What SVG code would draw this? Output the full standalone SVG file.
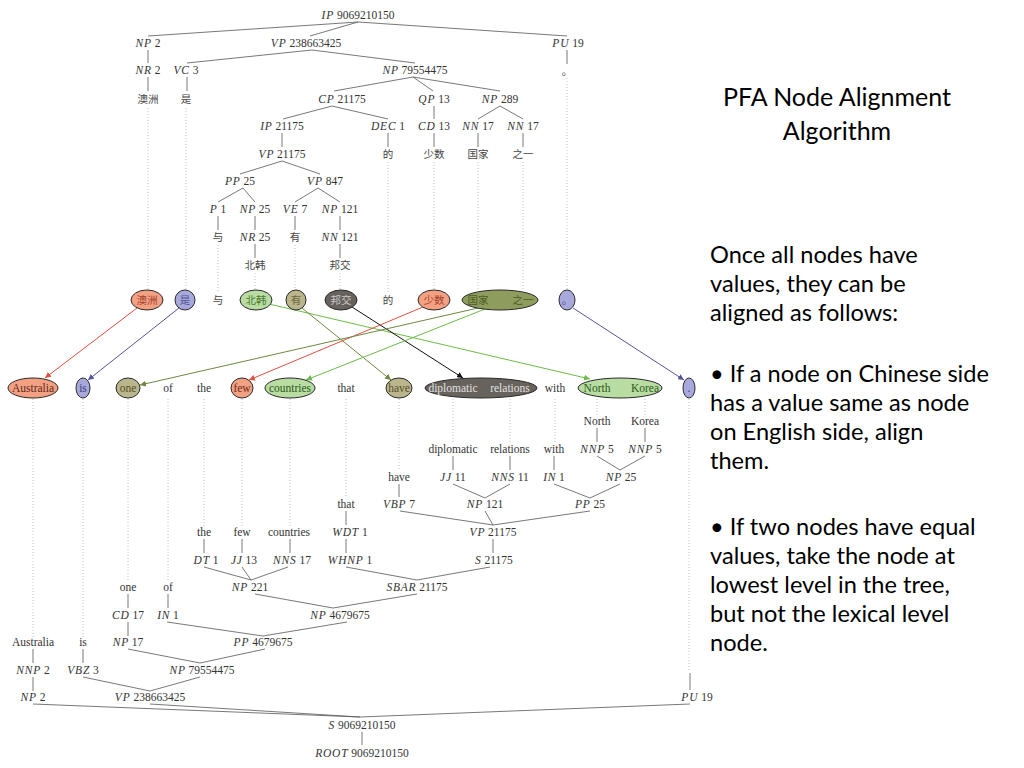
<svg xmlns="http://www.w3.org/2000/svg" width="1024" height="768" viewBox="0 0 1024 768">
<style>
.t{font-family:"Liberation Serif","DejaVu Serif",serif;font-size:11.5px;fill:#333;text-anchor:middle}
.c{font-style:italic;letter-spacing:0.8px}
.z{font-family:"Noto Sans CJK SC",sans-serif;font-size:10.5px;fill:#444;text-anchor:middle}
.l{stroke:#555;stroke-width:0.8;fill:none}
.d{stroke:#b0b0b0;stroke-width:0.8;stroke-dasharray:1 2;fill:none}
.n{stroke:#2a2a2a;stroke-width:1}
.red{fill:#f4a083}.pur{fill:#a8a8dc}.lg{fill:#b8dca2}.kh{fill:#bab58c}.dk{fill:#68625c}.ol{fill:#8e9d5e}
.a{fill:none;stroke-width:1}
.p{font-family:"Lato","Open Sans",sans-serif;font-size:23.6px;fill:#000}
</style>
<defs>
<marker id="mr" markerUnits="userSpaceOnUse" markerWidth="7" markerHeight="6" refX="6" refY="3" orient="auto"><path d="M0,0 L6,3 L0,6 z" fill="#e0503f"/></marker>
<marker id="mp" markerUnits="userSpaceOnUse" markerWidth="7" markerHeight="6" refX="6" refY="3" orient="auto"><path d="M0,0 L6,3 L0,6 z" fill="#55559a"/></marker>
<marker id="mg" markerUnits="userSpaceOnUse" markerWidth="7" markerHeight="6" refX="6" refY="3" orient="auto"><path d="M0,0 L6,3 L0,6 z" fill="#6cbb48"/></marker>
<marker id="mo" markerUnits="userSpaceOnUse" markerWidth="7" markerHeight="6" refX="6" refY="3" orient="auto"><path d="M0,0 L6,3 L0,6 z" fill="#6f8840"/></marker>
<marker id="mk" markerUnits="userSpaceOnUse" markerWidth="7" markerHeight="6" refX="6" refY="3" orient="auto"><path d="M0,0 L6,3 L0,6 z" fill="#111"/></marker>
</defs>
<rect width="1024" height="768" fill="#fff"/>

<g id="connectors">
<g id="dotted">
<path class="d" d="M148,108V289M186,108V289M218,245V292M255,273V289M295,245V289M340,273V289M388,162V292M434,162V289M478,162V289M523,162V289M567,78V289"/>
<path class="d" d="M33,399V637M83,399V637M128,399V582M168,399V582M204,399V526M242,399V526M290,399V526M346,399V498M399,399V471M453,399V443M510,399V443M555,399V443M597,399V415M645,399V415M689,399V672"/>
</g>
<g id="tree-zh">
<path class="l" d="M358,22L148,36M358,22L310,36M358,22L567,36M148,50L148,63M312,50L187,63M312,50L415,63M148,77L148,91M187,77L187,91M567,50L567,64M413,77L334,91M413,77L433,91M413,77L500,91M332,106L283,119M332,106L388,119M434,106L434,119M500,106L478,119M500,106L523,119M282,133L282,147M388,133L388,147M434,133L434,147M478,133L478,147M523,133L523,147M282,161L240,174M282,161L320,174M243,188L218,202M243,188L255,202M318,188L295,202M318,188L340,202M218,216L218,230M255,216L255,230M295,216L295,230M340,216L340,230M255,244L255,258M340,244L340,258"/>
</g>
<g id="tree-en">
<path class="l" d="M597,428L597,442M645,428L645,442M453,456L453,470M510,456L510,470M554,456L554,470M597,456L620,470M645,456L620,470M399,484L399,497M453,484L485,498M510,484L485,498M554,484L590,498M620,484L590,498M346,511L346,525M400,511L493,525M485,511L493,525M590,511L493,525M204,539L204,553M242,539L242,553M290,539L290,553M346,539L346,553M493,539L493,553M204,567L251,580M242,567L251,580M288,567L251,580M346,567L417,580M490,567L417,580M128,594L128,608M168,594L168,608M255,594L333,608M417,594L333,608M128,622L128,636M167,622L263,636M347,622L263,636M33,649L33,663M83,649L83,663M128,649L200,663M265,649L200,663M33,677L33,691M83,677L150,691M200,677L150,691M33,704L360,717M150,704L360,717M690,704L360,717M362,732L362,745M690,673L690,690"/>
</g>
<g id="alignments">
<path class="a" stroke="#e0503f" marker-end="url(#mr)" d="M137,308L45,378"/>
<path class="a" stroke="#55559a" marker-end="url(#mp)" d="M179,308L88,380"/>
<path class="a" stroke="#6cbb48" marker-end="url(#mg)" d="M269,304L590,379"/>
<path class="a" stroke="#6f8840" marker-end="url(#mo)" d="M302,308L391,380"/>
<path class="a" stroke="#111" marker-end="url(#mk)" d="M352,307L463,378"/>
<path class="a" stroke="#e0503f" marker-end="url(#mr)" d="M423,307L249,380"/>
<path class="a" stroke="#6f8840" marker-end="url(#mo)" d="M478,308L140,385"/>
<path class="a" stroke="#6cbb48" marker-end="url(#mg)" d="M485,309L306,380"/>
<path class="a" stroke="#55559a" marker-end="url(#mp)" d="M573,308L684,380"/>
</g>
</g>

<g id="zh-tree-nodes">
<g id="zh-IP"><text class="t" x="358" y="19"><tspan class="c">IP</tspan> 9069210150</text></g>
<g id="zh-NP2"><text class="t" x="148" y="47"><tspan class="c">NP</tspan> 2</text></g>
<g id="zh-VP"><text class="t" x="306" y="47"><tspan class="c">VP</tspan> 238663425</text></g>
<g id="zh-PU"><text class="t" x="568" y="47"><tspan class="c">PU</tspan> 19</text></g>
<g id="zh-NR2"><text class="t" x="148" y="74"><tspan class="c">NR</tspan> 2</text></g>
<g id="zh-VC3"><text class="t" x="186" y="74"><tspan class="c">VC</tspan> 3</text></g>
<g id="zh-NP795"><text class="t" x="415" y="74"><tspan class="c">NP</tspan> 79554475</text></g>
<g id="zh-w-period"><text class="z" x="567" y="75">。</text></g>
<g id="zh-w-aozhou"><text class="z" x="148" y="103">澳洲</text></g>
<g id="zh-w-shi"><text class="z" x="186" y="103">是</text></g>
<g id="zh-CP"><text class="t" x="342" y="103"><tspan class="c">CP</tspan> 21175</text></g>
<g id="zh-QP"><text class="t" x="434" y="103"><tspan class="c">QP</tspan> 13</text></g>
<g id="zh-NP289"><text class="t" x="500" y="103"><tspan class="c">NP</tspan> 289</text></g>
<g id="zh-IP21175"><text class="t" x="282" y="130"><tspan class="c">IP</tspan> 21175</text></g>
<g id="zh-DEC"><text class="t" x="388" y="130"><tspan class="c">DEC</tspan> 1</text></g>
<g id="zh-CD"><text class="t" x="434" y="130"><tspan class="c">CD</tspan> 13</text></g>
<g id="zh-NN17a"><text class="t" x="478" y="130"><tspan class="c">NN</tspan> 17</text></g>
<g id="zh-NN17b"><text class="t" x="523" y="130"><tspan class="c">NN</tspan> 17</text></g>
<g id="zh-VP21175"><text class="t" x="282" y="158"><tspan class="c">VP</tspan> 21175</text></g>
<g id="zh-w-de"><text class="z" x="388" y="158">的</text></g>
<g id="zh-w-shaoshu"><text class="z" x="434" y="158">少数</text></g>
<g id="zh-w-guojia"><text class="z" x="478" y="158">国家</text></g>
<g id="zh-w-zhiyi"><text class="z" x="523" y="158">之一</text></g>
<g id="zh-PP"><text class="t" x="240" y="185"><tspan class="c">PP</tspan> 25</text></g>
<g id="zh-VP847"><text class="t" x="325" y="185"><tspan class="c">VP</tspan> 847</text></g>
<g id="zh-P1"><text class="t" x="218" y="213"><tspan class="c">P</tspan> 1</text></g>
<g id="zh-NP25"><text class="t" x="255" y="213"><tspan class="c">NP</tspan> 25</text></g>
<g id="zh-VE7"><text class="t" x="295" y="213"><tspan class="c">VE</tspan> 7</text></g>
<g id="zh-NP121"><text class="t" x="340" y="213"><tspan class="c">NP</tspan> 121</text></g>
<g id="zh-w-yu"><text class="z" x="218" y="241">与</text></g>
<g id="zh-NR25"><text class="t" x="255" y="241"><tspan class="c">NR</tspan> 25</text></g>
<g id="zh-w-you"><text class="z" x="295" y="241">有</text></g>
<g id="zh-NN121"><text class="t" x="340" y="241"><tspan class="c">NN</tspan> 121</text></g>
<g id="zh-w-beihan"><text class="z" x="255" y="269">北韩</text></g>
<g id="zh-w-bangjiao"><text class="z" x="340" y="269">邦交</text></g>
</g>

<g id="zh-aligned-nodes">
<g id="a-aozhou"><ellipse class="n red" cx="147" cy="300" rx="16" ry="10"/><text class="z" x="147" y="304" style="fill:#a0402c">澳洲</text></g>
<g id="a-shi"><ellipse class="n pur" cx="185" cy="300" rx="10" ry="10"/><text class="z" x="185" y="304" style="fill:#50508e">是</text></g>
<g id="a-yu"><text class="z" x="218" y="304">与</text></g>
<g id="a-beihan"><ellipse class="n lg" cx="256" cy="300" rx="16" ry="10"/><text class="z" x="256" y="304" style="fill:#4a7a30">北韩</text></g>
<g id="a-you"><ellipse class="n kh" cx="296" cy="300" rx="10" ry="10"/><text class="z" x="296" y="304" style="fill:#6a6540">有</text></g>
<g id="a-bangjiao"><ellipse class="n dk" cx="341" cy="300" rx="16" ry="10"/><text class="z" x="341" y="304" style="fill:#c8c8c8">邦交</text></g>
<g id="a-de"><text class="z" x="388" y="304">的</text></g>
<g id="a-shaoshu"><ellipse class="n red" cx="434" cy="300" rx="16" ry="10"/><text class="z" x="434" y="304" style="fill:#a0402c">少数</text></g>
<g id="a-guojia-zhiyi"><ellipse class="n ol" cx="500" cy="300" rx="38" ry="10"/><text class="z" x="478" y="304" style="fill:#4a5a22">国家</text><text class="z" x="523" y="304" style="fill:#4a5a22">之一</text></g>
<g id="a-period"><ellipse class="n pur" cx="567" cy="300" rx="8" ry="10"/><text class="z" x="567" y="304" style="fill:#50508e">。</text></g>
</g>

<g id="en-aligned-nodes">
<g id="b-australia"><ellipse class="n red" cx="33" cy="388" rx="25" ry="10"/><text class="t" x="33" y="392" style="fill:#5a2a1a">Australia</text></g>
<g id="b-is"><ellipse class="n pur" cx="83" cy="388" rx="7" ry="10"/><text class="t" x="83" y="392" style="fill:#40407a">is</text></g>
<g id="b-one"><ellipse class="n kh" cx="128" cy="388" rx="12" ry="10"/><text class="t" x="128" y="392" style="fill:#55502a">one</text></g>
<g id="b-of"><text class="t" x="168" y="392">of</text></g>
<g id="b-the"><text class="t" x="204" y="392">the</text></g>
<g id="b-few"><ellipse class="n red" cx="242" cy="388" rx="11" ry="10"/><text class="t" x="242" y="392" style="fill:#6a2a1a">few</text></g>
<g id="b-countries"><ellipse class="n lg" cx="290" cy="388" rx="25" ry="10"/><text class="t" x="290" y="392" style="fill:#2a5a1a">countries</text></g>
<g id="b-that"><text class="t" x="346" y="392">that</text></g>
<g id="b-have"><ellipse class="n kh" cx="399" cy="388" rx="13" ry="10"/><text class="t" x="399" y="392" style="fill:#55502a">have</text></g>
<g id="b-diplomatic-relations"><ellipse class="n dk" cx="481" cy="388" rx="56" ry="10"/><text class="t" x="453" y="392" style="fill:#e0e0e0">diplomatic</text><text class="t" x="510" y="392" style="fill:#e0e0e0">relations</text></g>
<g id="b-with"><text class="t" x="555" y="392">with</text></g>
<g id="b-north-korea"><ellipse class="n lg" cx="620" cy="388" rx="42" ry="10"/><text class="t" x="597" y="392" style="fill:#2a5a1a">North</text><text class="t" x="645" y="392" style="fill:#2a5a1a">Korea</text></g>
<g id="b-period"><ellipse class="n pur" cx="689" cy="388" rx="6" ry="10"/><text class="t" x="689" y="392" style="fill:#40407a">.</text></g>
</g>

<g id="en-tree-nodes">
<g id="en-w-north"><text class="t" x="597" y="425">North</text></g>
<g id="en-w-korea"><text class="t" x="645" y="425">Korea</text></g>
<g id="en-w-diplomatic"><text class="t" x="453" y="453">diplomatic</text></g>
<g id="en-w-relations"><text class="t" x="510" y="453">relations</text></g>
<g id="en-w-with"><text class="t" x="554" y="453">with</text></g>
<g id="en-NNP5a"><text class="t" x="597" y="453"><tspan class="c">NNP</tspan> 5</text></g>
<g id="en-NNP5b"><text class="t" x="645" y="453"><tspan class="c">NNP</tspan> 5</text></g>
<g id="en-w-have"><text class="t" x="399" y="481">have</text></g>
<g id="en-JJ11"><text class="t" x="453" y="481"><tspan class="c">JJ</tspan> 11</text></g>
<g id="en-NNS11"><text class="t" x="510" y="481"><tspan class="c">NNS</tspan> 11</text></g>
<g id="en-IN1b"><text class="t" x="554" y="481"><tspan class="c">IN</tspan> 1</text></g>
<g id="en-NP25"><text class="t" x="621" y="481"><tspan class="c">NP</tspan> 25</text></g>
<g id="en-w-that"><text class="t" x="346" y="508">that</text></g>
<g id="en-VBP7"><text class="t" x="399" y="508"><tspan class="c">VBP</tspan> 7</text></g>
<g id="en-NP121"><text class="t" x="485" y="508"><tspan class="c">NP</tspan> 121</text></g>
<g id="en-PP25"><text class="t" x="590" y="508"><tspan class="c">PP</tspan> 25</text></g>
<g id="en-w-the"><text class="t" x="204" y="536">the</text></g>
<g id="en-w-few"><text class="t" x="242" y="536">few</text></g>
<g id="en-w-countries"><text class="t" x="289" y="536">countries</text></g>
<g id="en-WDT1"><text class="t" x="350" y="536"><tspan class="c">WDT</tspan> 1</text></g>
<g id="en-VP21175"><text class="t" x="493" y="536"><tspan class="c">VP</tspan> 21175</text></g>
<g id="en-DT1"><text class="t" x="206" y="564"><tspan class="c">DT</tspan> 1</text></g>
<g id="en-JJ13"><text class="t" x="244" y="564"><tspan class="c">JJ</tspan> 13</text></g>
<g id="en-NNS17"><text class="t" x="292" y="564"><tspan class="c">NNS</tspan> 17</text></g>
<g id="en-WHNP1"><text class="t" x="350" y="564"><tspan class="c">WHNP</tspan> 1</text></g>
<g id="en-S21175"><text class="t" x="494" y="564"><tspan class="c">S</tspan> 21175</text></g>
<g id="en-w-one"><text class="t" x="128" y="591">one</text></g>
<g id="en-w-of"><text class="t" x="168" y="591">of</text></g>
<g id="en-NP221"><text class="t" x="250" y="591"><tspan class="c">NP</tspan> 221</text></g>
<g id="en-SBAR"><text class="t" x="417" y="591"><tspan class="c">SBAR</tspan> 21175</text></g>
<g id="en-CD17"><text class="t" x="128" y="619"><tspan class="c">CD</tspan> 17</text></g>
<g id="en-IN1a"><text class="t" x="168" y="619"><tspan class="c">IN</tspan> 1</text></g>
<g id="en-NP4679675"><text class="t" x="340" y="619"><tspan class="c">NP</tspan> 4679675</text></g>
<g id="en-w-australia"><text class="t" x="33" y="646">Australia</text></g>
<g id="en-w-is"><text class="t" x="83" y="646">is</text></g>
<g id="en-NP17"><text class="t" x="128" y="646"><tspan class="c">NP</tspan> 17</text></g>
<g id="en-PP4679675"><text class="t" x="263" y="646"><tspan class="c">PP</tspan> 4679675</text></g>
<g id="en-NNP2"><text class="t" x="33" y="674"><tspan class="c">NNP</tspan> 2</text></g>
<g id="en-VBZ3"><text class="t" x="83" y="674"><tspan class="c">VBZ</tspan> 3</text></g>
<g id="en-NP795"><text class="t" x="202" y="674"><tspan class="c">NP</tspan> 79554475</text></g>
<g id="en-NP2"><text class="t" x="33" y="701"><tspan class="c">NP</tspan> 2</text></g>
<g id="en-VP238"><text class="t" x="150" y="701"><tspan class="c">VP</tspan> 238663425</text></g>
<g id="en-PU19"><text class="t" x="697" y="701"><tspan class="c">PU</tspan> 19</text></g>
<g id="en-S"><text class="t" x="362" y="729"><tspan class="c">S</tspan> 9069210150</text></g>
<g id="en-ROOT"><text class="t" x="362" y="757"><tspan class="c">ROOT</tspan> 9069210150</text></g>
</g>

<g id="explanation">
<text class="p" x="837" y="106" text-anchor="middle" style="font-size:25px">PFA Node Alignment</text>
<text class="p" x="837" y="140" text-anchor="middle" style="font-size:25px">Algorithm</text>
<text class="p" x="710" y="263">Once all nodes have</text>
<text class="p" x="710" y="292">values, they can be</text>
<text class="p" x="710" y="321">aligned as follows:</text>
<text class="p" x="710" y="382">• If a node on Chinese side</text>
<text class="p" x="710" y="411">has a value same as node</text>
<text class="p" x="710" y="440">on English side, align</text>
<text class="p" x="710" y="469">them.</text>
<text class="p" x="710" y="535">• If two nodes have equal</text>
<text class="p" x="710" y="564">values, take the node at</text>
<text class="p" x="710" y="593">lowest level in the tree,</text>
<text class="p" x="710" y="622">but not the lexical level</text>
<text class="p" x="710" y="651">node.</text>
</g>
</svg>
